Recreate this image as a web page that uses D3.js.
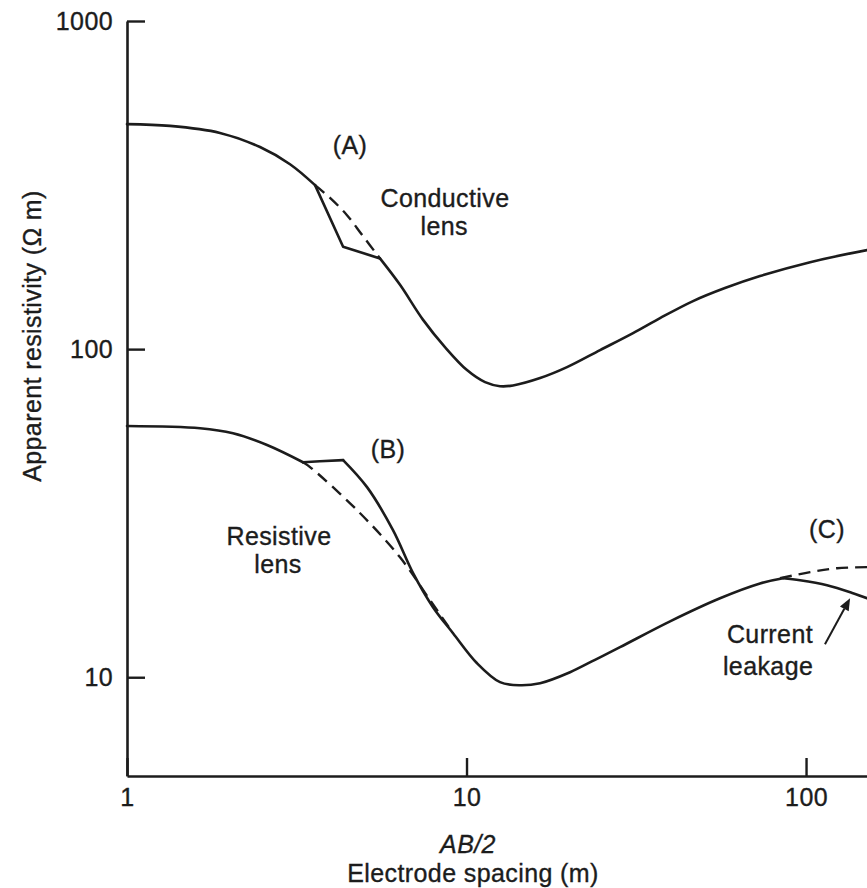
<!DOCTYPE html>
<html>
<head>
<meta charset="utf-8">
<script src="https://cdn.jsdelivr.net/npm/d3@7"></script>
<style>
  html, body { margin: 0; padding: 0; background: #fff; }
  svg { display: block; }
  text { font-family: "Liberation Sans", Arial, Helvetica, sans-serif; fill: #1c1c1c;
         stroke: #1c1c1c; stroke-width: 0.35px; letter-spacing: 0.4px; }
</style>
</head>
<body>
<svg id="chart" width="867" height="888"></svg>
<script>
// Electrode spacing AB/2 (m) vs apparent resistivity (ohm m), log-log sounding curves

const xTicks = [1, 10, 100];
const yTicks = [10, 100, 1000];

// Curve A: smooth part down to the conductive lens
const curveA = [[1, 485], [1.339, 479], [1.879, 456], [2.465, 413], [3.021, 366], [3.58, 316]];
// Curve A: distortion from the conductive lens
const lensA = [[3.58, 316], [4.33, 205], [5.56, 189]];
// Curve A: undisturbed response across the lens
const dashA = [[3.58, 316], [3.963, 289], [4.446, 256], [4.922, 223], [5.56, 189]];
// Curve A: remainder
const tailA = [[5.56, 189], [6.37, 157], [7.44, 123], [8.64, 101.4], [10.03, 86.3], [11.34, 79.3],
               [12.55, 77.1], [13.71, 77.5], [16.47, 81.6], [19.77, 88.1], [24.74, 99.3], [30.94, 111.9],
               [37.15, 124.3], [46.47, 140.1], [57.7, 153.5], [73.2, 167], [102.8, 184.1], [151.2, 200.4]];

// Curve B: smooth part down to the resistive lens
const curveB = [[1, 58.3], [1.641, 57.4], [2.052, 55.4], [2.585, 51], [3.299, 45.2]];
// Curve B: distortion from the resistive lens
const lensB = [[3.299, 45.2], [3.7, 45.5], [4.33, 45.9]];
// Curve B: descending limb after the lens, minimum and rise to the peak
const tailB = [[4.33, 45.9], [5.093, 37.96], [6.074, 28.07], [6.96, 20.76], [7.966, 16.35], [9.126, 13.62],
               [10.74, 11.03], [12.55, 9.66], [14.38, 9.45], [16.47, 9.59], [20.18, 10.36], [23.9, 11.3],
               [28.32, 12.35], [39.77, 14.8], [55.8, 17.4], [73.2, 19.3], [85.6, 20.04]];
// Curve B: undisturbed response across the lens
const dashB = [[3.299, 45.2], [3.46, 43.7], [4.76, 32.3], [6.37, 23.2], [7.81, 17.17], [9.126, 13.62]];
// Curve C: current leakage branch (solid) and undisturbed branch (dashed)
const leakC = [[85.6, 20.04], [96, 19.76], [115.3, 19.08], [137.5, 18.04], [151.2, 17.41]];
const dashC = [[83.8, 20.04], [102.8, 20.9], [123.4, 21.49], [151.2, 21.65]];

// Annotations: [text, x, y (baseline)]
const labels = [
  ["(A)", 4.54, 393],
  ["Conductive", 8.64, 271],
  ["lens", 8.6, 222.6],
  ["(B)", 5.87, 46.5],
  ["Resistive", 2.803, 25.26],
  ["lens", 2.785, 20.76],
  ["(C)", 115.3, 26.5],
  ["Current", 78.3, 12.7],
  ["leakage", 77.3, 10.14]
];
// Arrow from the "Current leakage" note to curve C: [x, y] tail, head
const arrowC = [[113.7, 12.6], [134.8, 17.4]];

const svg = d3.select("#chart");

const x = d3.scaleLog().domain([1, 151.2]).range([127, 867]);
const y = d3.scaleLog().domain([5, 1000]).range([776, 21]);

const ink = "#1c1c1c";

// Axes
const xAxis = svg.append("g")
  .attr("transform", `translate(0,${y(5)})`)
  .call(d3.axisBottom(x).tickValues(xTicks).tickFormat(d3.format("d"))
        .tickSizeInner(-18).tickSizeOuter(0).tickPadding(12));
const yAxis = svg.append("g")
  .attr("transform", `translate(${x(1)},0)`)
  .call(d3.axisLeft(y).tickValues(yTicks).tickFormat(d3.format("d"))
        .tickSizeInner(-18).tickSizeOuter(0).tickPadding(14));

[xAxis, yAxis].forEach(g => {
  g.selectAll(".domain").attr("stroke", ink).attr("stroke-width", 2.6);
  g.selectAll(".tick line").attr("stroke", ink).attr("stroke-width", 2.4);
  g.selectAll(".tick text").attr("fill", ink)
    .style("font-family", '"Liberation Sans", Arial, sans-serif').style("font-size", "25px");
});

// Curves
const smooth = d3.line().x(d => x(d[0])).y(d => y(d[1])).curve(d3.curveCatmullRom.alpha(0.5));
const straight = d3.line().x(d => x(d[0])).y(d => y(d[1])).curve(d3.curveLinear);

const curves = svg.append("g").attr("fill", "none").attr("stroke", ink)
  .attr("stroke-linejoin", "round").attr("stroke-linecap", "round");

[curveA, tailA, curveB, tailB, leakC].forEach(d =>
  curves.append("path").attr("d", smooth(d)).attr("stroke-width", 2.6));
[lensA, lensB].forEach(d =>
  curves.append("path").attr("d", straight(d)).attr("stroke-width", 2.6));
[dashA, dashB, dashC].forEach(d =>
  curves.append("path").attr("d", smooth(d)).attr("stroke-width", 2.4)
    .attr("stroke-linecap", "butt").attr("stroke-dasharray", "12,7"));

// Annotation labels
svg.append("g").selectAll("text").data(labels).join("text")
  .attr("x", d => x(d[1])).attr("y", d => y(d[2]))
  .attr("text-anchor", "middle")
  .style("font-size", "25px")
  .text(d => d[0]);

// Arrow
const [ta, ha] = arrowC;
const x1 = x(ta[0]), y1 = y(ta[1]), x2 = x(ha[0]), y2 = y(ha[1]);
const ang = Math.atan2(y2 - y1, x2 - x1);
const headLen = 12, headW = 5;
const bx = x2 - headLen * Math.cos(ang), by = y2 - headLen * Math.sin(ang);
svg.append("line").attr("x1", x1).attr("y1", y1).attr("x2", bx).attr("y2", by)
  .attr("stroke", ink).attr("stroke-width", 2);
svg.append("path")
  .attr("d", `M${x2},${y2}L${bx + headW * Math.sin(ang)},${by - headW * Math.cos(ang)}L${bx - headW * Math.sin(ang)},${by + headW * Math.cos(ang)}Z`)
  .attr("fill", ink);

// Axis titles
svg.append("text")
  .attr("transform", `translate(41,336) rotate(-90)`)
  .attr("text-anchor", "middle")
  .style("font-size", "25px")
  .text("Apparent resistivity (\u03A9 m)");

svg.append("text")
  .attr("x", 468).attr("y", 853)
  .attr("text-anchor", "middle")
  .style("font-size", "25px").style("font-style", "italic")
  .text("AB/2");

svg.append("text")
  .attr("x", 473).attr("y", 882)
  .attr("text-anchor", "middle")
  .style("font-size", "25px")
  .text("Electrode spacing (m)");
</script>
</body>
</html>
